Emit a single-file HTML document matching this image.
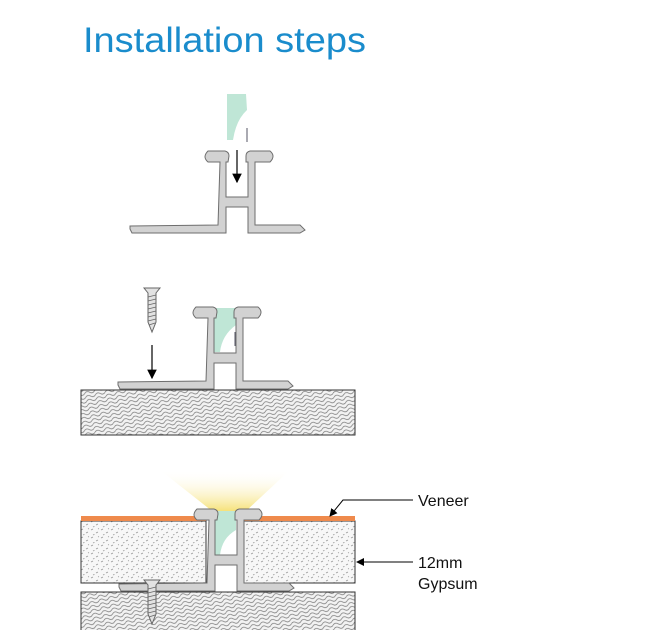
<!DOCTYPE html>
<html><head><style>
html,body{margin:0;padding:0;background:#fff;}
body{width:645px;height:630px;overflow:hidden;position:relative;}
</style></head><body>
<svg width="645" height="630" viewBox="0 0 645 630" xmlns="http://www.w3.org/2000/svg" style="position:absolute;left:0;top:0">
<defs>
<pattern id="wood" width="20" height="8" patternUnits="userSpaceOnUse" patternTransform="rotate(-15)">
<rect width="20" height="8" fill="#f2f2f2"/>
<path d="M0,2 q2.5,-2.5 5,0 t5,0 t5,0 t5,0 M0,6 q2.5,-2.5 5,0 t5,0 t5,0 t5,0" stroke="#777" stroke-width="0.8" fill="none"/>
</pattern>
<pattern id="gyp" width="10" height="8" patternUnits="userSpaceOnUse">
<rect width="10" height="8" fill="#f7f7f7"/>
<path d="M1,2 l2,-1 M6,5 l2,-1 M3,7 l1.5,-0.7 M8,1 l1,-0.5" stroke="#999" stroke-width="0.7"/>
</pattern>
<linearGradient id="cone" x1="0" y1="1" x2="0" y2="0">
<stop offset="0" stop-color="#f6e27a"/><stop offset="1" stop-color="#fff" stop-opacity="0"/>
</linearGradient>
<g id="prof">
<path d="M130,226 L218,225 L220,162 L208,162 Q202,157 208,151 L225,151 Q229,152 229,156 L228,162 L226,162 L226,197 L248,197 L248,162 L246,162 L246,156 Q246,152 250,151 L270,151 Q276,156 270,162 L255,162 L255,225 L300,225 L305,230 L300,233 L248,233 L248,207 L226,207 L226,233 L132,233 L130,229 Z" fill="#d2d2d2" stroke="#6e6e6e" stroke-width="1"/>
</g>
<marker id="ah" markerWidth="8" markerHeight="8" refX="7" refY="4" orient="auto"><path d="M0,0 L8,4 L0,8 Z" fill="#000"/></marker>
<g id="screw">
<path d="M-8,0 L8,0 L4,5 L4,34 L0,44 L-4,34 L-4,5 Z" fill="#e2e2e2" stroke="#666" stroke-width="1"/>
<path d="M-4,9 l8,-2 M-4,13 l8,-2 M-4,17 l8,-2 M-4,21 l8,-2 M-4,25 l8,-2 M-4,29 l8,-2 M-4,33 l8,-2 M-3,37 l6,-2" stroke="#666" stroke-width="0.9"/>
</g>
</defs>
<text x="83" y="52" font-family="Liberation Sans, sans-serif" font-size="35" fill="#1a8ccc" textLength="283" lengthAdjust="spacingAndGlyphs">Installation steps</text>

<!-- step 1 -->
<path d="M227,94 L246,94 L247,110 Q236,120 233,140 L227,140 Z" fill="#bfe6d6"/>
<line x1="247" y1="128" x2="247" y2="142" stroke="#556" stroke-width="1"/>
<line x1="237" y1="150" x2="237" y2="182" stroke="#000" stroke-width="1.2" marker-end="url(#ah)"/>
<use href="#prof"/>

<!-- step 2 -->
<rect x="81" y="390" width="274" height="45" fill="url(#wood)" stroke="#333" stroke-width="1"/>
<path d="M214,308 L236,308 L236,325 Q222,335 220,352 L214,352 Z" fill="#bfe6d6"/>
<use href="#prof" transform="translate(-12,156)"/>
<line x1="235" y1="332" x2="235" y2="346" stroke="#556" stroke-width="1"/>
<use href="#screw" transform="translate(152,288)"/>
<line x1="152" y1="345" x2="152" y2="378" stroke="#000" stroke-width="1.2" marker-end="url(#ah)"/>

<!-- step 3 -->
<path d="M212,511 L246,511 L290,470 L160,470 Z" fill="url(#cone)"/>
<rect x="81" y="592" width="274" height="40" fill="url(#wood)" stroke="#333" stroke-width="1"/>
<rect x="81" y="521" width="125" height="62" fill="url(#gyp)" stroke="#333" stroke-width="1"/>
<rect x="244" y="521" width="111" height="62" fill="url(#gyp)" stroke="#333" stroke-width="1"/>
<rect x="81" y="516" width="125" height="5" fill="#ef8a4c"/>
<rect x="244" y="516" width="111" height="5" fill="#ef8a4c"/>
<path d="M215,511 L236,511 L236,530 Q222,538 220,555 L215,555 Z" fill="#bfe6d6"/>
<use href="#prof" transform="translate(-11,358)"/>
<use href="#screw" transform="translate(152,580)"/>

<polyline points="413,500 343,500 330,516" fill="none" stroke="#000" stroke-width="1" marker-end="url(#ah)"/>
<line x1="413" y1="562" x2="357" y2="562" stroke="#000" stroke-width="1" marker-end="url(#ah)"/>
<g font-family="Liberation Sans, sans-serif" font-size="16" fill="#111">
<text x="418" y="506">Veneer</text>
<text x="418" y="568">12mm</text>
<text x="418" y="589">Gypsum</text>
</g>
</svg>
</body></html>
